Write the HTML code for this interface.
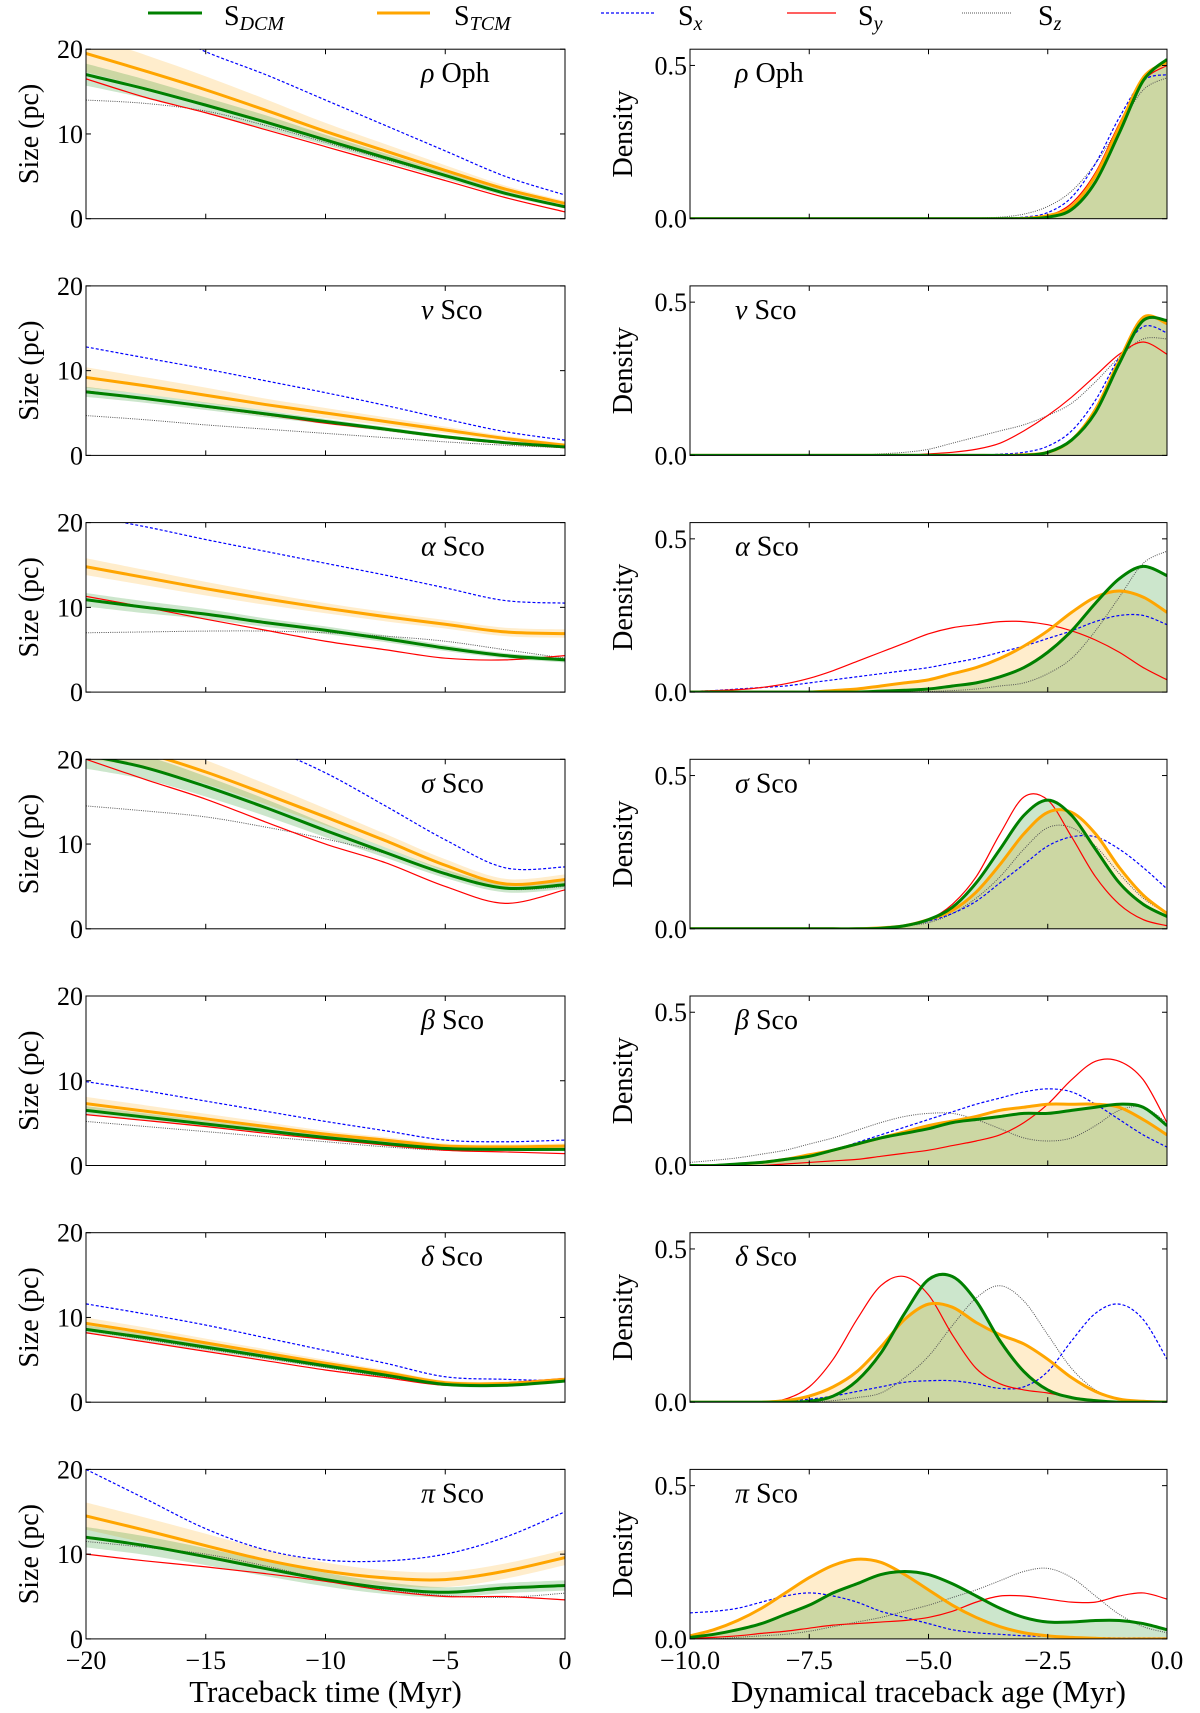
<!DOCTYPE html>
<html><head><meta charset="utf-8">
<style>
body{margin:0;background:#fff;}
svg{display:block;font-family:"Liberation Serif",serif;}
</style></head>
<body>
<svg id="fig" width="1200" height="1713" viewBox="0 0 1200 1713" xmlns="http://www.w3.org/2000/svg">
<g id="legend">
  <g><line x1="148" y1="13" x2="202" y2="13" stroke="#008000" stroke-width="3"/><text x="224" y="25" font-size="28">S<tspan font-style="italic" font-size="20" dy="5">DCM</tspan></text></g>
  <g><line x1="377" y1="13" x2="430" y2="13" stroke="#ffa500" stroke-width="3"/><text x="454" y="25" font-size="28">S<tspan font-style="italic" font-size="20" dy="5">TCM</tspan></text></g>
  <g><line x1="601" y1="13" x2="654" y2="13" stroke="#0000ff" stroke-width="1.2" stroke-dasharray="3,2"/><text x="678" y="25" font-size="28">S<tspan font-style="italic" font-size="20" dy="5">x</tspan></text></g>
  <g><line x1="787" y1="13" x2="836" y2="13" stroke="#ff0000" stroke-width="1.2"/><text x="858" y="25" font-size="28">S<tspan font-style="italic" font-size="20" dy="5">y</tspan></text></g>
  <g><line x1="962" y1="13" x2="1011" y2="13" stroke="#555" stroke-width="1" stroke-dasharray="1,1"/><text x="1038" y="25" font-size="28">S<tspan font-style="italic" font-size="20" dy="5">z</tspan></text></g>
</g>
</svg>
<script>
// ---------- Left panels: size vs traceback time ----------
const sizeTimes = [-20,-17.5,-15,-12.5,-10,-7.5,-5,-2.5,0];
const groups = ["ρ Oph","ν Sco","α Sco","σ Sco","β Sco","δ Sco","π Sco"];
const groupSlugs = ["rho-oph","nu-sco","alpha-sco","sigma-sco","beta-sco","delta-sco","pi-sco"];
const sizeDCM = [
 [17,15.3,13.4,11.4,9.3,7.2,5.1,3.0,1.4],
 [7.5,6.7,5.8,4.9,4.0,3.1,2.2,1.5,1.0],
 [10.9,10.0,9.2,8.2,7.3,6.3,5.2,4.3,3.8],
 [20.5,19.0,16.8,14.3,11.6,9.0,6.5,4.8,5.2],
 [6.5,5.7,4.9,4.1,3.3,2.6,2.0,1.9,1.9],
 [8.6,7.6,6.5,5.4,4.3,3.2,2.1,2.0,2.5],
 [12.0,11.0,9.7,8.3,7.0,6.0,5.5,6.0,6.3]];
const sizeDCMerr = [
 [1.3,1.1,0.9,0.8,0.6,0.5,0.4,0.3,0.2],
 [0.6,0.5,0.45,0.4,0.3,0.25,0.2,0.15,0.1],
 [0.8,0.7,0.6,0.5,0.45,0.4,0.35,0.3,0.3],
 [1.6,1.4,1.2,1.0,0.8,0.6,0.5,0.5,0.5],
 [0.5,0.45,0.4,0.35,0.3,0.25,0.2,0.2,0.2],
 [0.5,0.45,0.4,0.35,0.3,0.25,0.2,0.2,0.2],
 [1.2,1.1,1.0,0.9,0.8,0.7,0.6,0.6,0.6]];
const sizeTCM = [
 [19.5,17.4,15.2,12.8,10.3,8.0,5.7,3.5,1.8],
 [9.2,8.2,7.1,6.0,5.0,4.0,3.0,2.0,1.2],
 [14.8,13.5,12.2,11.0,9.9,8.9,8.0,7.1,6.9],
 [22.0,20.7,18.5,15.9,13.2,10.4,7.5,5.3,5.8],
 [7.3,6.4,5.5,4.6,3.7,3.0,2.3,2.2,2.3],
 [9.3,8.2,7.0,5.8,4.6,3.5,2.3,2.2,2.7],
 [14.5,12.8,11.0,9.3,8.0,7.2,7.0,8.0,9.6]];
const sizeTCMerr = [
 [2.2,1.9,1.6,1.3,1.0,0.8,0.6,0.4,0.3],
 [1.2,1.0,0.9,0.7,0.6,0.5,0.4,0.3,0.2],
 [1.0,0.9,0.8,0.7,0.6,0.55,0.5,0.5,0.5],
 [2.0,1.7,1.4,1.2,1.0,0.8,0.7,0.6,0.6],
 [0.8,0.7,0.6,0.5,0.4,0.35,0.3,0.3,0.3],
 [0.7,0.6,0.5,0.45,0.4,0.3,0.25,0.25,0.25],
 [1.6,1.5,1.4,1.2,1.0,0.9,0.9,0.9,0.9]];
const sizeSx = [
 [25,23,19.7,17,14,11,8,5,2.8],
 [12.8,11.5,10.2,8.8,7.4,5.9,4.3,2.8,1.8],
 [20.8,19.5,18.0,16.6,15.2,13.8,12.3,10.8,10.5],
 [28,26,24,21.5,18.4,14.5,10.5,7.2,7.3],
 [9.9,8.8,7.6,6.4,5.2,4.1,3.0,2.8,3.0],
 [11.6,10.4,9.1,7.6,6.1,4.6,3.0,2.7,2.5],
 [20,16.5,13,10.5,9.3,9.2,10.0,12.0,15.0]];
const sizeSy = [
 [16.5,14.3,12.5,10.5,8.5,6.5,4.5,2.5,0.8],
 [7.6,6.7,5.7,4.8,3.8,3.0,2.1,1.4,0.9],
 [11.3,10.0,8.6,7.3,6.0,5.0,4.0,3.8,4.3],
 [20,17.6,15.3,12.6,10.0,7.8,5.0,3.0,4.6],
 [6.0,5.3,4.6,3.8,3.1,2.4,1.8,1.6,1.4],
 [8.2,7.1,6.0,4.9,3.8,2.9,2.0,2.3,2.8],
 [10.0,9.2,8.5,7.7,6.8,5.7,5.0,5.0,4.6]];
const sizeSz = [
 [14,13.6,12.7,11,9,7,5,3,1.5],
 [4.7,4.2,3.6,3.1,2.6,2.1,1.6,1.2,0.9],
 [7.0,7.1,7.2,7.2,7.0,6.6,6.0,5.0,4.0],
 [14.5,13.9,13.2,12.0,10.6,8.9,6.6,4.7,5.0],
 [5.2,4.6,4.0,3.4,2.8,2.2,1.8,1.9,2.3],
 [8.5,7.4,6.3,5.2,4.1,3.0,2.0,2.0,2.4],
 [11.5,10.8,10.0,8.6,7.0,5.8,5.1,4.9,5.4]];
const sizeXTicks = [-20,-15,-10,-5,0];
const sizeXTickLabels = ["−20","−15","−10","−5","0"];
const sizeYTicks = [0,10,20];
const sizeYTickLabels = ["0","10","20"];

// ---------- Right panels: density vs age ----------
const ages = [-10,-9.5,-9,-8.5,-8,-7.5,-7,-6.5,-6,-5.5,-5,-4.5,-4,-3.5,-3,-2.5,-2,-1.5,-1,-0.5,0];
const denDCM = [
 [0,0,0,0,0,0,0,0,0,0,0,0,0,0,0,.005,.03,.12,.28,.45,.52],
 [0,0,0,0,0,0,0,0,0,0,0,0,0,0,0,.01,.05,.14,.30,.44,.44],
 [0,0,0,0,0,0,0,0,.003,.006,.01,.02,.03,.05,.08,.13,.20,.29,.37,.41,.38],
 [0,0,0,0,0,0,0,0,.002,.01,.03,.07,.15,.26,.37,.42,.37,.26,.15,.08,.04],
 [0,0,.005,.01,.02,.03,.05,.07,.09,.105,.12,.14,.15,.16,.17,.17,.18,.19,.20,.19,.13],
 [0,0,0,0,0,.003,.02,.07,.16,.29,.40,.41,.33,.20,.10,.04,.015,.005,0,0,0],
 [.005,.015,.03,.05,.08,.11,.15,.18,.21,.22,.21,.18,.14,.10,.07,.055,.055,.06,.06,.05,.03]];
const denTCM = [
 [0,0,0,0,0,0,0,0,0,0,0,0,0,0,.001,.01,.04,.14,.30,.46,.51],
 [0,0,0,0,0,0,0,0,0,0,0,0,0,0,.002,.01,.05,.15,.31,.45,.43],
 [0,0,0,0,0,0,.005,.01,.02,.03,.04,.06,.08,.11,.15,.20,.26,.31,.33,.31,.26],
 [0,0,0,0,0,0,0,0,.003,.01,.03,.06,.12,.21,.31,.38,.38,.31,.20,.11,.05],
 [0,0,.004,.01,.02,.035,.05,.07,.09,.11,.13,.145,.16,.18,.19,.20,.20,.20,.19,.15,.10],
 [0,0,0,0,.005,.02,.05,.10,.18,.27,.32,.31,.26,.22,.19,.14,.08,.035,.01,.003,0],
 [.01,.03,.06,.10,.15,.20,.24,.26,.25,.21,.16,.11,.07,.04,.02,.01,.005,.002,0,0,0]];
const denSx = [
 [0,0,0,0,0,0,0,0,0,0,0,0,0,.002,.005,.02,.07,.18,.33,.45,.47],
 [0,0,0,0,0,0,0,0,0,0,0,0,0,.004,.01,.03,.08,.18,.32,.42,.40],
 [.002,.005,.01,.015,.02,.03,.04,.05,.06,.07,.08,.095,.11,.13,.15,.175,.20,.23,.25,.25,.22],
 [0,0,0,0,0,0,0,0,.005,.01,.025,.05,.09,.15,.21,.27,.30,.30,.26,.20,.13],
 [0,.002,.005,.01,.02,.035,.05,.075,.10,.125,.15,.175,.20,.22,.24,.25,.24,.20,.15,.10,.06],
 [0,0,0,0,.005,.01,.02,.035,.05,.065,.07,.07,.06,.045,.05,.10,.20,.29,.32,.27,.14],
 [.085,.09,.10,.12,.14,.15,.14,.12,.09,.07,.05,.03,.02,.015,.01,.008,.005,.004,.003,.003,.003]];
const denSy = [
 [0,0,0,0,0,0,0,0,0,0,0,0,0,0,.001,.01,.05,.15,.31,.45,.50],
 [0,0,0,0,0,0,0,0,0,0,.005,.01,.02,.04,.08,.13,.19,.26,.33,.37,.33],
 [.002,.005,.008,.015,.027,.045,.07,.10,.13,.16,.19,.21,.22,.23,.23,.22,.20,.17,.13,.08,.04],
 [0,0,0,0,0,0,0,0,0,.01,.03,.08,.17,.31,.43,.42,.30,.17,.08,.03,.01],
 [0,0,0,0,.005,.01,.015,.02,.03,.04,.05,.065,.08,.10,.14,.20,.28,.34,.34,.28,.14],
 [0,0,0,0,.01,.05,.14,.27,.38,.41,.35,.22,.11,.06,.04,.03,.015,.005,0,0,0],
 [.002,.005,.01,.018,.025,.035,.045,.05,.055,.06,.07,.09,.12,.14,.14,.13,.12,.12,.14,.15,.13]];
const denSz = [
 [0,0,0,0,0,0,0,0,0,0,0,0,.002,.005,.015,.04,.09,.18,.30,.42,.46],
 [0,0,0,0,0,0,0,0,.005,.01,.02,.04,.06,.08,.10,.13,.17,.24,.32,.38,.38],
 [0,0,0,0,0,0,0,0,0,0,.002,.005,.01,.02,.03,.06,.11,.20,.31,.42,.46],
 [0,0,0,0,0,0,0,0,.005,.01,.02,.05,.10,.17,.26,.33,.33,.27,.18,.10,.05],
 [.01,.017,.025,.037,.05,.07,.09,.115,.14,.16,.17,.17,.15,.12,.09,.08,.09,.13,.18,.19,.14],
 [0,0,0,0,0,0,.005,.015,.03,.08,.15,.25,.34,.38,.33,.22,.11,.04,.01,.003,0],
 [0,0,.005,.01,.015,.025,.04,.055,.07,.09,.11,.135,.16,.19,.22,.23,.20,.14,.08,.04,.02]];
const ageXTicks = [-10,-7.5,-5,-2.5,0];
const ageXTickLabels = ["−10.0","−7.5","−5.0","−2.5","0.0"];
const denYTicks = [0,0.5];
const denYTickLabels = ["0.0","0.5"];

const NS = "http://www.w3.org/2000/svg";
const svg = document.getElementById('fig');
const LX0 = 86, LX1 = 565, RX0 = 690, RX1 = 1167;
const TOP0 = 49.2, STEP = 236.7, PH = 169.5;
const DENMAX = 0.553;

function mk(tag, attrs, parent){const e=document.createElementNS(NS,tag);for(const k in attrs)e.setAttribute(k,attrs[k]);(parent||svg).appendChild(e);return e;}
function spline(pts){
  if(pts.length<2) return '';
  let d='M'+pts[0][0].toFixed(2)+','+pts[0][1].toFixed(2);
  for(let i=0;i<pts.length-1;i++){
    const p0=pts[Math.max(0,i-1)],p1=pts[i],p2=pts[i+1],p3=pts[Math.min(pts.length-1,i+2)];
    const c1x=p1[0]+(p2[0]-p0[0])/6,c1y=p1[1]+(p2[1]-p0[1])/6;
    const c2x=p2[0]-(p3[0]-p1[0])/6,c2y=p2[1]-(p3[1]-p1[1])/6;
    d+=' C'+c1x.toFixed(2)+','+c1y.toFixed(2)+' '+c2x.toFixed(2)+','+c2y.toFixed(2)+' '+p2[0].toFixed(2)+','+p2[1].toFixed(2);
  }
  return d;
}
const styles = {
  dcm:{stroke:'#008000','stroke-width':3},
  tcm:{stroke:'#ffa500','stroke-width':3},
  sx:{stroke:'#0000ff','stroke-width':1.2,'stroke-dasharray':'3,2'},
  sy:{stroke:'#ff0000','stroke-width':1.2},
  sz:{stroke:'#555','stroke-width':1,'stroke-dasharray':'1,1.2'}
};

for(let i=0;i<groups.length;i++){
  const top = TOP0 + i*STEP, bot = top + PH;
  const slug = groupSlugs[i];
  // ---- left panel ----
  const gl = mk('g',{});
  
  
  const clipL = mk('clipPath',{id:'cl'+i},gl); mk('rect',{x:LX0,y:top,width:LX1-LX0,height:PH},clipL);
  const xs = t => LX0 + (t+20)/20*(LX1-LX0);
  const ys = v => bot - v/20*PH;
  const plotL = mk('g',{'clip-path':'url(#cl'+i+')'},gl);
  function band(mean, err, color, name){
    const up = sizeTimes.map((t,k)=>[xs(t),ys(mean[k]+err[k])]);
    const lo = sizeTimes.map((t,k)=>[xs(t),ys(mean[k]-err[k])]).reverse();
    const d = spline(up)+' L'+spline(lo).slice(1)+' Z';
    const p = mk('path',{d:d,fill:color,'fill-opacity':0.2,stroke:'none'},plotL);
    
    
  }
  band(sizeTCM[i], sizeTCMerr[i], '#ffa500', 'tcm-band');
  band(sizeDCM[i], sizeDCMerr[i], '#008000', 'dcm-band');
  const lseries = [['sz',sizeSz[i]],['sx',sizeSx[i]],['sy',sizeSy[i]],['tcm',sizeTCM[i]],['dcm',sizeDCM[i]]];
  for(const [key,vals] of lseries){
    const p = mk('path',Object.assign({d:spline(sizeTimes.map((t,k)=>[xs(t),ys(vals[k])])),fill:'none'},styles[key]),plotL);
    
    
  }
  mk('rect',{x:LX0,y:top,width:LX1-LX0,height:PH,fill:'none',stroke:'#000','stroke-width':1},gl);
  sizeXTicks.forEach((t,k)=>{
    mk('line',{x1:xs(t),x2:xs(t),y1:bot,y2:bot-5,stroke:'#000'},gl);
    mk('line',{x1:xs(t),x2:xs(t),y1:top,y2:top+5,stroke:'#000'},gl);
    if(i===groups.length-1){
      const tx = mk('text',{x:xs(t),y:bot+30,'font-size':26,'text-anchor':'middle'},gl);
      tx.textContent = sizeXTickLabels[k];
      
      
    }
  });
  sizeYTicks.forEach((v,k)=>{
    mk('line',{x1:LX0,x2:LX0+5,y1:ys(v),y2:ys(v),stroke:'#000'},gl);
    mk('line',{x1:LX1,x2:LX1-5,y1:ys(v),y2:ys(v),stroke:'#000'},gl);
    const tx = mk('text',{x:LX0-3,y:ys(v)+9,'font-size':26,'text-anchor':'end'},gl);
    tx.textContent = sizeYTickLabels[k];
    
    
  });
  const yl = mk('text',{x:0,y:0,'font-size':28,'text-anchor':'middle',transform:'translate(38,'+(top+PH/2)+') rotate(-90)'},gl);
  yl.textContent = 'Size (pc)';
  
  
  const gtl = mk('text',{x:421,y:top+33,'font-size':28},gl);
  gtl.innerHTML = '<tspan font-style="italic">'+groups[i].split(' ')[0]+'</tspan> '+groups[i].split(' ')[1];
  
  

  // ---- right panel ----
  const gr = mk('g',{});
  
  
  const clipR = mk('clipPath',{id:'cr'+i},gr); mk('rect',{x:RX0,y:top,width:RX1-RX0,height:PH},clipR);
  const xa = a => RX0 + (a+10)/10*(RX1-RX0);
  const yd = v => bot - v/DENMAX*PH;
  const plotR = mk('g',{'clip-path':'url(#cr'+i+')'},gr);
  function area(vals,color,name){
    const pts = ages.map((a,k)=>[xa(a),yd(vals[k])]);
    const d = spline(pts)+' L'+xa(0)+','+bot+' L'+xa(-10)+','+bot+' Z';
    const p = mk('path',{d:d,fill:color,'fill-opacity':0.2,stroke:'none'},plotR);
    
    
  }
  area(denTCM[i],'#ffa500','tcm-density-fill');
  area(denDCM[i],'#008000','dcm-density-fill');
  const rseries = [['sz',denSz[i]],['sx',denSx[i]],['sy',denSy[i]],['tcm',denTCM[i]],['dcm',denDCM[i]]];
  for(const [key,vals] of rseries){
    const p = mk('path',Object.assign({d:spline(ages.map((a,k)=>[xa(a),Math.min(yd(vals[k]),bot)])),fill:'none'},styles[key]),plotR);
    
    
  }
  mk('rect',{x:RX0,y:top,width:RX1-RX0,height:PH,fill:'none',stroke:'#000','stroke-width':1},gr);
  ageXTicks.forEach((a,k)=>{
    mk('line',{x1:xa(a),x2:xa(a),y1:bot,y2:bot-5,stroke:'#000'},gr);
    mk('line',{x1:xa(a),x2:xa(a),y1:top,y2:top+5,stroke:'#000'},gr);
    if(i===groups.length-1){
      const tx = mk('text',{x:xa(a),y:bot+30,'font-size':26,'text-anchor':'middle'},gr);
      tx.textContent = ageXTickLabels[k];
      
      
    }
  });
  denYTicks.forEach((v,k)=>{
    mk('line',{x1:RX0,x2:RX0+5,y1:yd(v),y2:yd(v),stroke:'#000'},gr);
    mk('line',{x1:RX1,x2:RX1-5,y1:yd(v),y2:yd(v),stroke:'#000'},gr);
    const tx = mk('text',{x:RX0-3,y:yd(v)+9,'font-size':26,'text-anchor':'end'},gr);
    tx.textContent = denYTickLabels[k];
    
    
  });
  const dl = mk('text',{x:0,y:0,'font-size':28,'text-anchor':'middle',transform:'translate(632,'+(top+PH/2)+') rotate(-90)'},gr);
  dl.textContent = 'Density';
  
  
  const gtr = mk('text',{x:735,y:top+33,'font-size':28},gr);
  gtr.innerHTML = '<tspan font-style="italic">'+groups[i].split(' ')[0]+'</tspan> '+groups[i].split(' ')[1];
  
  
}
const xl1 = mk('text',{x:(LX0+LX1)/2,y:1702,'font-size':31,'text-anchor':'middle'});
xl1.textContent = 'Traceback time (Myr)';


const xl2 = mk('text',{x:(RX0+RX1)/2,y:1702,'font-size':31,'text-anchor':'middle'});
xl2.textContent = 'Dynamical traceback age (Myr)';


</script>
</body></html>
